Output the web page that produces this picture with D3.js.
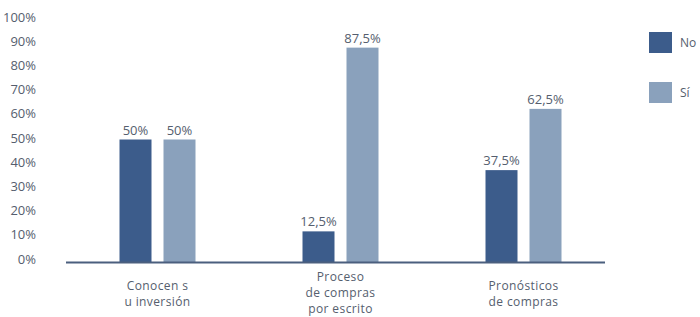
<!DOCTYPE html>
<html>
<head>
<meta charset="utf-8">
<script src="https://cdn.jsdelivr.net/npm/d3@7"></script>
<style>
  html, body { margin: 0; padding: 0; background: #fff; }
  svg { display: block; }
  text { font-family: "Open Sans", sans-serif; fill: #555e6e; }
</style>
</head>
<body>
<svg id="chart" width="700" height="317"></svg>
<script>
const categories = [
  ["Conocen s", "u inversión"],
  ["Proceso", "de compras", "por escrito"],
  ["Pronósticos", "de compras"]
];
const seriesNames = ["No", "Sí"];
const valuesNo = [50, 12.5, 37.5];
const valuesSi = [50, 87.5, 62.5];
const tickValues = [0, 10, 20, 30, 40, 50, 60, 70, 80, 90, 100];

const colors = { "No": "#3c5c8b", "Sí": "#8aa1bc" };
const svg = d3.select("#chart");

const catKeys = categories.map(c => c.join(" "));
const x0 = d3.scaleBand().domain(catKeys).range([66, 615]).paddingInner(0).paddingOuter(0);
const bw = x0.bandwidth();
const x1 = d3.scaleBand().domain(seriesNames).range([bw / 2 - 38, bw / 2 + 38]).paddingInner(12 / 44).paddingOuter(0);
const y = d3.scaleLinear().domain([0, 100]).range([262, 17]);

const fmt = v => String(v).replace(".", ",") + "%";

// y tick labels
svg.append("g").selectAll("text").data(tickValues).join("text")
  .attr("x", 36)
  .attr("y", d => y(d) - 3 + (d / 100) * 3)
  .attr("dy", "0.35em")
  .attr("text-anchor", "end")
  .style("font-size", "13px")
  .text(d => d + "%");

const data = catKeys.map((k, i) => ({ key: k, No: valuesNo[i], "Sí": valuesSi[i] }));

const groups = svg.append("g").selectAll("g").data(data).join("g")
  .attr("transform", d => `translate(${x0(d.key)},0)`);

groups.selectAll("rect").data(d => seriesNames.map(s => ({ s, v: d[s] }))).join("rect")
  .attr("x", d => x1(d.s))
  .attr("width", x1.bandwidth())
  .attr("y", d => y(d.v))
  .attr("height", d => y(0) - y(d.v))
  .attr("fill", d => colors[d.s]);

groups.selectAll("text.val").data(d => seriesNames.map(s => ({ s, v: d[s] }))).join("text")
  .attr("class", "val")
  .attr("x", d => x1(d.s) + x1.bandwidth() / 2)
  .attr("y", d => y(d.v) - 5)
  .attr("text-anchor", "middle")
  .style("font-size", "13px")
  .text(d => fmt(d.v));

// baseline axis
svg.append("line")
  .attr("x1", 66).attr("x2", 605)
  .attr("y1", y(0) + 0.5).attr("y2", y(0) + 0.5)
  .attr("stroke", "#4b5f7e").attr("stroke-width", 2);

// category labels
const labG = svg.append("g");
categories.forEach((lines, i) => {
  const cx = x0(catKeys[i]) + bw / 2;
  const startCenter = lines.length === 3 ? 277 : 286;
  const t = labG.append("text").attr("text-anchor", "middle").style("font-size", "12px").style("letter-spacing", "0.4px");
  lines.forEach((ln, j) => {
    t.append("tspan").attr("x", cx).attr("y", startCenter + j * 16).attr("dy", "0.35em").text(ln);
  });
});

// legend
const leg = svg.append("g");
seriesNames.forEach((s, i) => {
  const yy = 32 + i * 50;
  leg.append("rect").attr("x", 649).attr("y", yy).attr("width", 23).attr("height", 21).attr("fill", colors[s]);
  leg.append("text").attr("x", 680).attr("y", yy + 11).attr("dy", "0.35em").style("font-size", "12px").text(s);
});
</script>
</body>
</html>
